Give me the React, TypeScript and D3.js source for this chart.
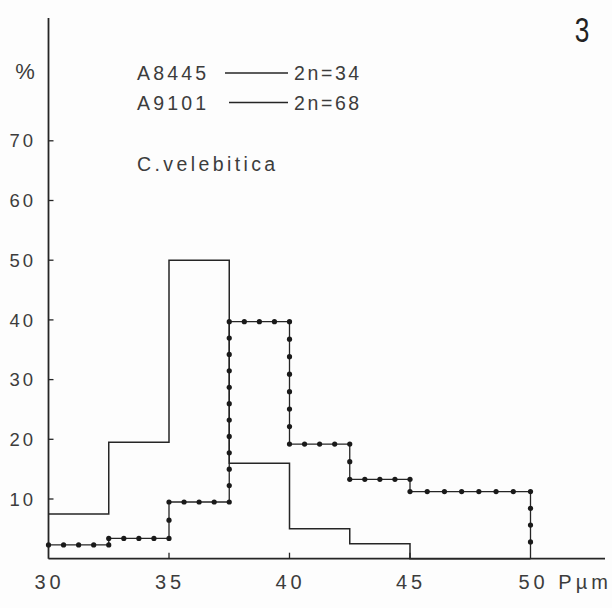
import React from "react";
import * as d3 from "d3";

const binStarts = [30, 32.5, 35, 37.5, 40, 42.5, 45, 47.5];
const binEnd = 50;
const a8445 = [7.5, 19.5, 50, 16, 5, 2.5, 0, 0];
const a9101 = [2.3, 3.4, 9.5, 39.7, 19.2, 13.3, 11.25, 11.25];
const yTicks = [10, 20, 30, 40, 50, 60, 70];
const xTicks = [30, 35, 40, 45, 50];
const legendRows = [
  { code: "A8445", chrom: "2n=34" },
  { code: "A9101", chrom: "2n=68" },
];
const speciesLabel = "C.velebitica";
const figureNumber = "3";

const W = 612;
const H = 608;
const x = d3.scaleLinear().domain([30, 50]).range([48.5, 530.5]);
const y = d3.scaleLinear().domain([0, 70]).range([558.7, 140.8]);

const ink = "#262626";
const textInk = "#3c3c3c";
const font = "'Liberation Sans', Arial, sans-serif";

function stepPoints(vals: number[]): [number, number][] {
  const pts: [number, number][] = [];
  vals.forEach((v, i) => {
    const x0 = x(binStarts[i]);
    const x1 = x(i + 1 < binStarts.length ? binStarts[i + 1] : binEnd);
    const yy = y(v);
    if (pts.length) {
      const last = pts[pts.length - 1];
      if (Math.abs(last[1] - yy) > 0.01) pts.push([x0, yy]);
      else pts.pop();
    } else pts.push([x0, yy]);
    pts.push([x1, yy]);
  });
  const last = pts[pts.length - 1];
  if (Math.abs(last[1] - y(0)) > 0.01) pts.push([last[0], y(0)]);
  return pts;
}

function dotsAlong(pts: [number, number][], spacing: number): [number, number][] {
  const out: [number, number][] = [];
  for (let i = 0; i < pts.length - 1; i++) {
    const [x0, y0] = pts[i];
    const [x1, y1] = pts[i + 1];
    const len = Math.hypot(x1 - x0, y1 - y0);
    const n = Math.max(1, Math.round(len / spacing));
    for (let k = 0; k < n; k++) {
      const t = k / n;
      out.push([x0 + (x1 - x0) * t, y0 + (y1 - y0) * t]);
    }
  }
  return out;
}

export default function App() {
  const line = d3.line();
  const solidPts = stepPoints(a8445);
  const dotPts = stepPoints(a9101);
  const dots = dotsAlong(dotPts, 17);
  const base = y(0);
  const axisX = x(30);

  return (
    <svg
      width={W}
      height={H}
      viewBox={`0 0 ${W} ${H}`}
      style={{ position: "absolute", left: 0, top: 0, background: "#fdfdfd" }}
    >
      <rect x={0} y={0} width={W} height={H} fill="#fdfdfd" />
      {/* axes */}
      <line x1={axisX} y1={18} x2={axisX} y2={base} stroke={ink} strokeWidth={1.8} />
      <line x1={axisX} y1={base} x2={605} y2={base} stroke={ink} strokeWidth={1.8} />
      {yTicks.map((t) => (
        <g key={"yt" + t}>
          <line x1={axisX} x2={axisX + 5} y1={y(t)} y2={y(t)} stroke={ink} strokeWidth={1.3} />
          <text
            x={36}
            y={y(t)}
            dy="0.36em"
            textAnchor="end"
            fontFamily={font}
            fontSize={18.5}
            letterSpacing={3}
            fill={textInk}
          >
            {t}
          </text>
        </g>
      ))}
      {xTicks.map((t) => (
        <g key={"xt" + t}>
          {t > 30 && t < 50 && (
            <line x1={x(t)} x2={x(t)} y1={base} y2={base - 6} stroke={ink} strokeWidth={1.3} />
          )}
          <text
            x={x(t) + (t === 50 ? 0 : 1)}
            y={589}
            textAnchor={t === 50 ? "start" : "middle"}
            dx={t === 50 ? -12 : 0}
            fontFamily={font}
            fontSize={20}
            letterSpacing={4}
            fill={textInk}
          >
            {t === 50 ? "50 P\u00b5m" : t}
          </text>
        </g>
      ))}
      <text x={25} y={79} textAnchor="middle" fontFamily={font} fontSize={22} fill={textInk}>
        %
      </text>
      <text
        x={582}
        y={42}
        textAnchor="middle"
        fontFamily={font}
        fontSize={35}
        fill="#222"
        transform={`translate(582,0) scale(0.75,1) translate(-582,0)`}
      >
        {figureNumber}
      </text>

      {/* legend */}
      {legendRows.map((r, i) => {
        const by = 80 + i * 29.5;
        return (
          <g key={r.code}>
            <text x={137} y={by} fontFamily={font} fontSize={19.5} letterSpacing={3.2} fill={textInk}>
              {r.code}
            </text>
            <line
              x1={i === 0 ? 225 : 229}
              x2={288}
              y1={by - 7}
              y2={by - 7}
              stroke={ink}
              strokeWidth={1.3}
            />
            <text x={294} y={by} fontFamily={font} fontSize={19.5} letterSpacing={2.6} fill={textInk}>
              {r.chrom}
            </text>
          </g>
        );
      })}
      <text x={137} y={171} fontFamily={font} fontSize={19.5} letterSpacing={3.4} fill={textInk}>
        {speciesLabel}
      </text>

      {/* histograms */}
      <path d={line(solidPts) || ""} fill="none" stroke={ink} strokeWidth={1.5} />
      <path d={line(dotPts) || ""} fill="none" stroke={ink} strokeWidth={1.3} />
      {dots.map(([cx, cy], i) => (
        <circle key={i} cx={cx} cy={cy} r={2.6} fill="#1a1a1a" />
      ))}
    </svg>
  );
}
